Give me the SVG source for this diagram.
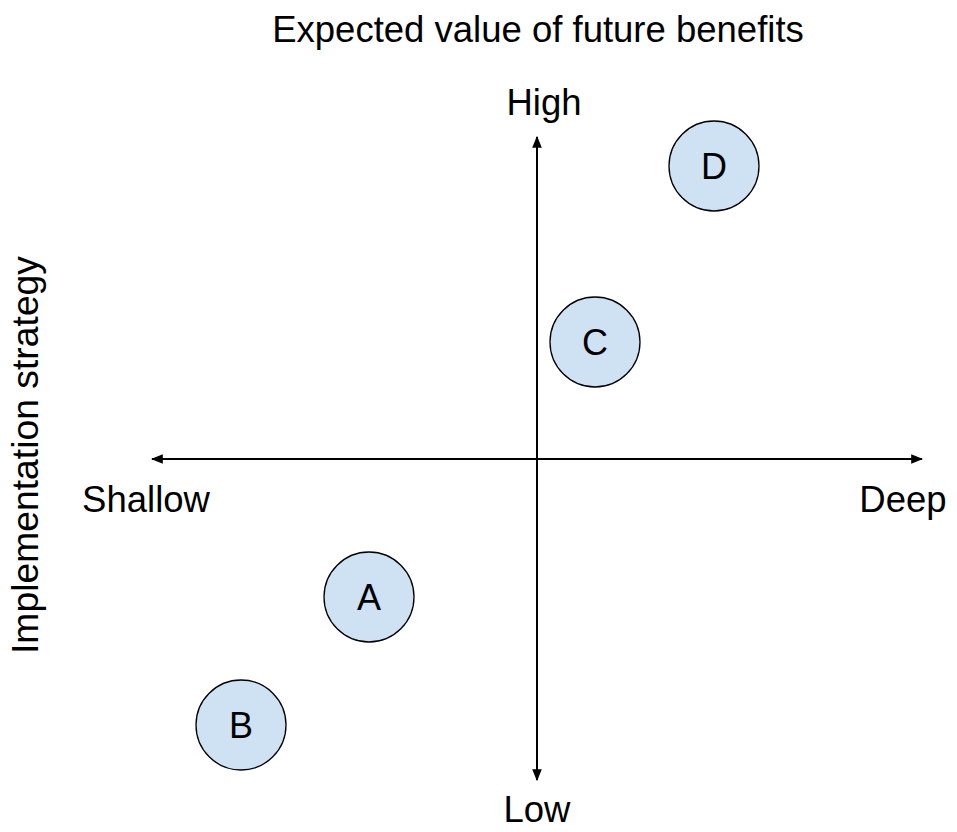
<svg xmlns="http://www.w3.org/2000/svg" width="957" height="832" viewBox="0 0 957 832">
<style>
text{font-family:"Liberation Sans",Arial,sans-serif;fill:#000}
.t{font-size:36.5px}
.n circle{fill:#cfe2f3;stroke:#000;stroke-width:1.3}
.n text{font-size:36px;text-anchor:middle}
.ax{stroke:#000;stroke-width:2;fill:none}
</style>
<defs>
<marker id="ah" viewBox="0 0 10 10" refX="9" refY="5" markerWidth="6" markerHeight="6" orient="auto-start-reverse" markerUnits="strokeWidth">
<path d="M0,1 L10,5 L0,9 Z" fill="#000"/>
</marker>
</defs>
<rect width="957" height="832" fill="#fff"/>
<g id="labels">
<text class="t" x="538" y="42" text-anchor="middle">Expected value of future benefits</text>
<text class="t" x="544" y="115" text-anchor="middle">High</text>
<text class="t" x="537" y="822" text-anchor="middle">Low</text>
<text class="t" x="146" y="512" text-anchor="middle">Shallow</text>
<text class="t" x="903" y="512" text-anchor="middle">Deep</text>
<text class="t" transform="translate(38,455) rotate(-90)" text-anchor="middle" style="font-size:37.3px">Implementation strategy</text>
</g>
<g id="connectors">
<line class="ax" x1="537" y1="780" x2="537" y2="137" marker-start="url(#ah)" marker-end="url(#ah)"/>
<line class="ax" x1="152" y1="459" x2="922" y2="459" marker-start="url(#ah)" marker-end="url(#ah)"/>
</g>
<g id="node-D" class="n"><circle cx="714" cy="166" r="45"/><text x="714" y="179">D</text></g>
<g id="node-C" class="n"><circle cx="595" cy="342" r="45"/><text x="595" y="355">C</text></g>
<g id="node-A" class="n"><circle cx="369" cy="597" r="45"/><text x="369" y="610">A</text></g>
<g id="node-B" class="n"><circle cx="241" cy="725" r="45"/><text x="241" y="738">B</text></g>
</svg>
